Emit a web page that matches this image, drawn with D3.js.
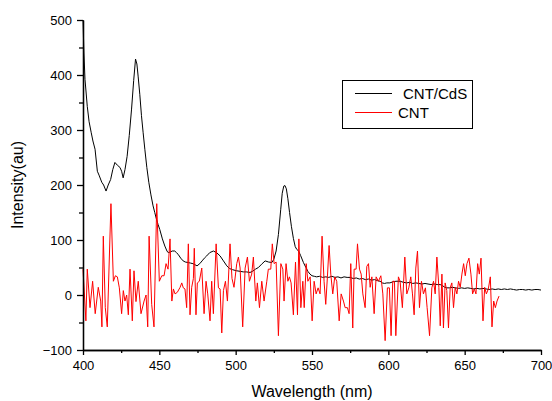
<!DOCTYPE html>
<html lang="en">
<head>
  <meta charset="UTF-8">
  <script src="https://d3js.org/d3.v7.min.js"></script>
  <style>
    body {
      margin: 0;
      padding: 0;
      background-color: #fff;
      font-family: "Liberation Sans", Arial, sans-serif;
    }
    .axis text {
      font-family: "Liberation Sans", Arial, sans-serif;
      font-size: 13px;
      fill: #000;
    }
    .axis path, .axis line {
      stroke: #000;
      stroke-width: 1.3px;
    }
  </style>
</head>
<body>
  <div id="chart"></div>

  <script>
    // CNT/CdS spectrum (black)
    const wlCdS = [400, 400.6, 401.3, 402.8, 404, 405.4, 406.5, 407.9, 409.4, 410.5, 412.3, 413.5, 415.1, 416.5, 418.1, 419.5,
      420.9, 422.5, 424.2, 425.3, 426.3, 427.5, 428.9, 430.3, 431.8, 433.2, 434.4, 435.3, 436.1, 437.2, 438.3, 439.4,
      440.5, 441.8, 443.1, 444.5, 445.9, 447, 448.1, 449.2, 450.3, 452, 453.6, 455, 455.8, 457, 458.5, 460.1, 461.2,
      462.3, 464, 465.6, 467, 468.9, 470.5, 472, 474.7, 476.5, 478, 479.5, 481, 483, 485.4, 487.5, 489.8, 492, 494.2,
      496, 498, 500.7, 503, 505, 507, 509.4, 511, 513, 514.9, 517, 519.3, 521.5, 523.7, 525, 526.5, 528, 529.5, 530.5,
      531.5, 532.3, 533.2, 534.2, 535.3, 536.5, 537.8, 539, 540, 541.2, 542.5, 544.4, 546, 547.3, 548.7, 550, 551.5,
      553, 555, 557, 559, 561, 563, 565, 567, 569, 571, 573, 575, 577, 579, 581, 583, 585, 587, 589, 591, 593, 594.6,
      596, 597.5, 599, 601, 603, 605, 607.7, 610, 612, 614, 616, 618, 620, 622, 624, 626, 628, 630, 632, 633.9, 635.5,
      637, 638.3, 640, 642, 644, 646, 648, 650, 652, 654, 656, 658, 660, 662, 664, 666, 668, 670, 672, 674, 676, 678,
      680, 682, 684, 686, 688, 690, 692, 694, 696, 698, 700];
    const intCdS = [500, 440, 392, 343, 315, 295, 280, 265, 225, 218, 205, 200, 189, 200, 210, 228,
      241, 236, 232, 225, 213, 228, 252, 290, 338, 390, 429, 420, 398, 365, 326, 295,
      265, 232, 205, 182, 162, 150, 138, 128, 119, 102, 89, 80, 77, 78, 80, 80, 77,
      74, 67, 62, 60, 59, 58, 57, 53, 57, 62, 67, 71, 77, 80, 77, 71, 62, 53,
      48, 46, 44, 43, 42, 42, 41, 43, 47, 50, 56, 62, 60, 59, 65, 80, 110, 155, 185,
      198, 199, 193, 175, 150, 125, 103, 88, 83, 80, 72, 59, 50, 43, 38, 35, 34,
      33, 34, 32, 33, 32, 34, 32, 33, 31, 33, 32, 32, 30, 31, 29, 30, 28, 29, 27, 28, 26, 25,
      22, 21, 22, 22, 24, 25, 25, 23, 22, 23, 21, 22, 21, 20, 21, 20, 19, 20, 19, 19, 17,
      14, 13, 13, 14, 13, 12, 13, 12, 13, 12, 11, 12, 11, 12, 11, 10, 11, 10, 11, 10, 11, 10,
      11, 10, 9, 10, 10, 9, 10, 9, 10, 10, 9];

    // CNT spectrum (red)
    const wlCNT = [400, 401.9, 402.8, 404.6, 406.3, 408, 410, 411.6, 412.4, 413.3, 414.6, 415.9, 418.3, 419.9, 421.2, 422.5,
      423.8, 425.3, 426.4, 427.5, 428.6, 429.7, 430.8, 432.3, 433.4, 434.7, 436.2, 438, 440, 441.3, 442.4, 443.3,
      445, 446.5, 448.3, 450, 451.6, 453.1, 454.4, 455.7, 457, 458.2, 459.2, 460.3, 461.8, 463.6, 464.7, 465.7,
      466.8, 467.9, 469, 470.1, 471.2, 472.3, 472.9, 474, 474.9, 476.2, 477.8, 479.3, 480.6, 481.7, 483.2, 484.3,
      485.4, 487.2, 488.7, 489.8, 490.9, 492, 493.3, 494.6, 496.3, 497.6, 498.9, 500.7, 501.8, 502.9, 504.6, 506.2,
      507.7, 509, 510.5, 511.6, 513.2, 514.2, 515.6, 517.1, 518.6, 520.4, 521.4, 523, 524, 525.2, 526.5, 528,
      529.6, 530.9, 531.7, 533, 534.2, 535.2, 536.3, 537.8, 539.2, 540.5, 541.4, 542.7, 544, 544.9, 546.2, 547.3,
      548.8, 550.1, 551.4, 552.7, 554, 555.3, 556.6, 557.9, 559, 560.1, 561.2, 562.3, 563.6, 564.9, 566.2, 567.8,
      569.1, 570.6, 571.7, 573.2, 574.3, 575.4, 576.7, 577.6, 578.9, 579.8, 581.1, 582.2, 583.3, 584.8, 585.9, 587,
      588.1, 589.2, 590.7, 592, 593.5, 595.1, 596.4, 597.9, 599.4, 600.7, 601.8, 602.9, 604, 604.9, 606.6, 607.7,
      609.2, 610.8, 612.1, 613.4, 614.7, 615.8, 616.9, 618, 619.1, 620.4, 621.7, 623, 624.3, 625.4, 627, 628.5,
      629.6, 630.7, 631.8, 633.1, 634, 635.1, 636.1, 637.2, 638.3, 639.4, 640.5, 641.6, 642.7, 643.8, 644.9, 646,
      647.1, 648.2, 649.3, 650.4, 651.5, 652.8, 654.1, 655.2, 656.3, 657.4, 658.5, 659.6, 660.7, 662, 663.1, 664.2,
      665.5, 666.8, 667.9, 669, 670.1, 671.2, 672.5];
    const intCNT = [47, -47, 47, -23, 25, -34, 14, -11, -58, 107, -23, -58, 166, 25, 35, 33,
      13, -34, 8, -11, 0, -36, 47, -47, 44, -12, 25, -34, -11, 0, -58, 107,
      -17, -58, 166, 25, 35, 35, 57, 47, 102, -11, 11, 2, 5, 14, 22, 13,
      11, -23, 93, -36, 14, 30, 85, -36, 22, 25, 49, -34, 25, 2, -47, 25,
      -34, 93, 13, 11, -69, 8, 25, -11, 93, 30, 14, 57, 69, 49, -58, 49,
      69, 25, 38, 69, -11, 22, -23, 25, -11, 25, 47, 47, 93, 57, 60, -74,
      57, 47, -11, 57, 25, 33, 22, -36, 60, -36, 102, -23, 25, -23, 57, 25,
      33, -47, 25, 2, 13, 2, 107, 25, -17, 33, 90, 38, 2, 33, 25, -47,
      2, -11, -23, -23, -34, 57, -60, 47, 47, 93, 47, 38, 2, -23, 52, 57,
      14, 33, -34, 33, 25, 35, 2, -83, 13, 13, -74, 25, 25, -74, 33, 25,
      -23, 69, 2, 13, 33, 2, -36, 49, 80, -23, 25, 2, 13, -23, -74, 13,
      25, 2, 69, 14, -56, 38, -60, 22, 8, -60, 13, 22, -23, 14, 2, 25,
      14, 38, 57, 35, 57, 67, 38, 2, 11, 2, 57, 38, 67, -47, 14, 2,
      11, 33, -58, -11, -23, -11, -2];

    const xTicks = [400, 450, 500, 550, 600, 650, 700];
    const xMinor = [425, 475, 525, 575, 625, 675];
    const yTicks = [-100, 0, 100, 200, 300, 400, 500];
    const yMinor = [-50, 50, 150, 250, 350, 450];

    const seriesNames = ["CNT/CdS", "CNT"];
    const seriesColors = ["#000", "#ff0000"];

    const width = 552, height = 401;
    const margin = { top: 20, right: 11, bottom: 51, left: 83 };

    const svg = d3.select("#chart")
      .append("svg")
      .attr("width", width)
      .attr("height", height);

    const x = d3.scaleLinear().domain([400, 700]).range([margin.left, width - margin.right]);
    const y = d3.scaleLinear().domain([-100, 500]).range([height - margin.bottom, margin.top]);

    const line = d3.line().x(d => x(d[0])).y(d => y(d[1]));

    const cds = wlCdS.map((w, i) => [w, intCdS[i]]);
    const cnt = wlCNT.map((w, i) => [w, intCNT[i]]);

    svg.append("path")
      .datum(cds)
      .attr("fill", "none")
      .attr("stroke", seriesColors[0])
      .attr("stroke-width", 1)
      .attr("d", line);

    svg.append("path")
      .datum(cnt)
      .attr("fill", "none")
      .attr("stroke", seriesColors[1])
      .attr("stroke-width", 1)
      .attr("d", line);

    // axes
    svg.append("g")
      .attr("class", "axis")
      .attr("transform", `translate(0,${height - margin.bottom})`)
      .call(d3.axisBottom(x).tickValues(xTicks).tickSize(5).tickSizeOuter(0).tickPadding(6).tickFormat(d3.format("d")));

    svg.append("g")
      .attr("class", "axis")
      .attr("transform", `translate(0,${height - margin.bottom})`)
      .call(d3.axisBottom(x).tickValues(xMinor).tickSize(3).tickSizeOuter(0).tickFormat(""));

    svg.append("g")
      .attr("class", "axis")
      .attr("transform", `translate(${margin.left},0)`)
      .call(d3.axisLeft(y).tickValues(yTicks).tickSize(6).tickSizeOuter(0).tickPadding(5).tickFormat(d3.format("d")));

    svg.append("g")
      .attr("class", "axis")
      .attr("transform", `translate(${margin.left},0)`)
      .call(d3.axisLeft(y).tickValues(yMinor).tickSize(4).tickSizeOuter(0).tickFormat(""));

    // axis titles
    svg.append("text")
      .attr("x", (margin.left + width - margin.right) / 2)
      .attr("y", 397)
      .attr("text-anchor", "middle")
      .style("font-size", "16px")
      .text("Wavelength (nm)");

    svg.append("text")
      .attr("transform", `translate(23,${(margin.top + height - margin.bottom) / 2}) rotate(-90)`)
      .attr("text-anchor", "middle")
      .style("font-size", "16px")
      .text("Intensity(au)");

    // legend
    const legend = svg.append("g");
    legend.append("rect")
      .attr("x", 342.5)
      .attr("y", 80.5)
      .attr("width", 130)
      .attr("height", 48)
      .attr("fill", "#fff")
      .attr("stroke", "#000")
      .attr("stroke-width", 1);

    const legendY = [93.5, 112.5];
    const textX = [403, 398];
    seriesNames.forEach((name, i) => {
      legend.append("line")
        .attr("x1", 355).attr("x2", 392)
        .attr("y1", legendY[i]).attr("y2", legendY[i])
        .attr("stroke", seriesColors[i])
        .attr("stroke-width", 1);
      legend.append("text")
        .attr("x", textX[i])
        .attr("y", legendY[i] + 5)
        .style("font-size", "15px")
        .text(name);
    });
  </script>
</body>
</html>
